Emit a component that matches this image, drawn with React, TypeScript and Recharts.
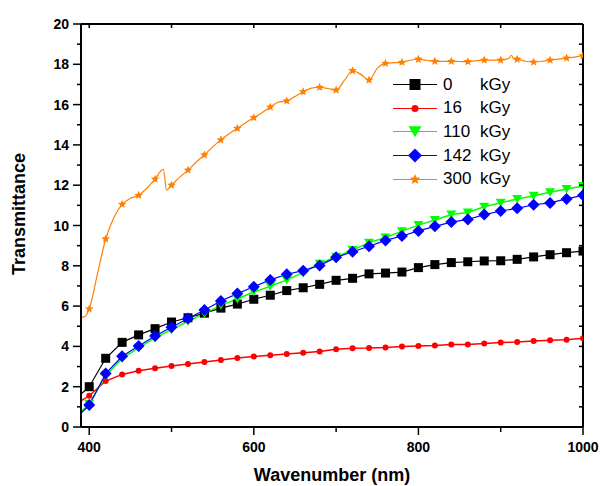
import { LineChart, Line, XAxis, YAxis } from 'recharts';

// Wavelengths shared by the 0, 16, 110 and 142 kGy curves
const WAVELENGTHS = [
  390, 400, 420, 440, 460, 480, 500, 520, 540, 560, 580, 600, 620, 640, 660, 680,
  700, 720, 740, 760, 780, 800, 820, 840, 860, 880, 900, 920, 940, 960, 980, 1000,
];

const T_0KGY = [
  1.64, 2.0, 3.41, 4.2, 4.57, 4.88, 5.21, 5.42, 5.65, 5.9, 6.1, 6.34, 6.54, 6.77, 6.91, 7.08,
  7.28, 7.38, 7.6, 7.64, 7.69, 7.91, 8.06, 8.16, 8.2, 8.24, 8.25, 8.32, 8.44, 8.55, 8.65, 8.73,
];
const T_16KGY = [
  1.3, 1.55, 2.28, 2.61, 2.79, 2.91, 3.03, 3.13, 3.23, 3.33, 3.42, 3.5, 3.56, 3.62, 3.69, 3.75,
  3.86, 3.91, 3.92, 3.95, 4.0, 4.02, 4.04, 4.09, 4.1, 4.15, 4.19, 4.22, 4.27, 4.3, 4.33, 4.4,
];
const T_110KGY = [
  0.75, 1.15, 2.55, 3.4, 3.93, 4.42, 4.83, 5.25, 5.63, 6.05, 6.35, 6.71, 6.98, 7.3, 7.66, 8.1,
  8.45, 8.78, 9.15, 9.4, 9.72, 10.02, 10.27, 10.55, 10.65, 10.93, 11.13, 11.31, 11.48, 11.65, 11.81, 11.96,
];
const T_142KGY = [
  0.68, 1.09, 2.65, 3.51, 4.02, 4.52, 4.95, 5.38, 5.81, 6.25, 6.62, 6.96, 7.3, 7.58, 7.76, 8.02,
  8.42, 8.7, 8.97, 9.26, 9.48, 9.73, 9.96, 10.17, 10.3, 10.54, 10.72, 10.85, 11.03, 11.12, 11.32, 11.5,
];

// 300 kGy is a denser trace (stars only every 20 nm)
const WL_300 = [
  390, 393, 400, 410, 420, 430, 440, 450, 460, 470, 480, 490, 494, 500, 510, 520, 530, 540,
  550, 560, 570, 580, 590, 600, 610, 620, 630, 640, 650, 660, 670, 680, 690, 700, 710, 720,
  730, 740, 750, 760, 770, 780, 790, 800, 810, 820, 830, 840, 850, 860, 870, 880, 890, 900,
  910, 913, 916, 920, 930, 940, 950, 960, 970, 980, 990, 1000,
];
const T_300KGY = [
  5.5, 5.45, 5.86, 7.6, 9.33, 10.4, 11.05, 11.35, 11.5, 11.85, 12.3, 12.8, 11.76, 12.0, 12.4, 12.75, 13.15, 13.5,
  13.9, 14.25, 14.55, 14.82, 15.1, 15.35, 15.6, 15.88, 16.12, 16.18, 16.4, 16.64, 16.82, 16.86, 16.8, 16.72, 17.2, 17.68,
  17.5, 17.22, 17.8, 18.05, 18.08, 18.1, 18.2, 18.25, 18.2, 18.15, 18.15, 18.15, 18.14, 18.13, 18.18, 18.21, 18.21, 18.21,
  18.3, 18.45, 18.25, 18.25, 18.15, 18.11, 18.15, 18.21, 18.26, 18.31, 18.36, 18.43,
];

const X_TICKS = [400, 500, 600, 700, 800, 900, 1000];
const X_LABELS = [400, 600, 800, 1000];
const Y_TICKS = [0, 1, 2, 3, 4, 5, 6, 7, 8, 9, 10, 11, 12, 13, 14, 15, 16, 17, 18, 19, 20];

const LEGEND_DOSES = ['0', '16', '110', '142', '300'];

const FONT = 'Arial, "Liberation Sans", sans-serif';

const toPoints = (xs: number[], ys: number[]) => xs.map((x, i) => ({ x, y: ys[i] }));

type MarkerKind = 'square' | 'circle' | 'triangle' | 'diamond' | 'star';

function starPath(cx: number, cy: number, r: number) {
  const pts: string[] = [];
  for (let i = 0; i < 10; i++) {
    const rad = i % 2 === 0 ? r : r * 0.45;
    const a = -Math.PI / 2 + (i * Math.PI) / 5;
    pts.push(`${cx + rad * Math.cos(a)},${cy + rad * Math.sin(a)}`);
  }
  return `M${pts.join('L')}Z`;
}

function Marker({ kind, cx, cy, color, size }: { kind: MarkerKind; cx: number; cy: number; color: string; size: number }) {
  const h = size / 2;
  switch (kind) {
    case 'square':
      return <rect x={cx - h} y={cy - h} width={size} height={size} fill={color} />;
    case 'circle':
      return <circle cx={cx} cy={cy} r={h} fill={color} />;
    case 'triangle':
      return <path d={`M${cx - h},${cy - h * 0.8}L${cx + h},${cy - h * 0.8}L${cx},${cy + h * 0.9}Z`} fill={color} />;
    case 'diamond':
      return <path d={`M${cx},${cy - h}L${cx + h},${cy}L${cx},${cy + h}L${cx - h},${cy}Z`} fill={color} />;
    default:
      return <path d={starPath(cx, cy, h)} fill={color} />;
  }
}

// only draw a symbol on every 20 nm point, from 400 up
const makeDot = (kind: MarkerKind, color: string, size: number) => (props: any) => {
  const { cx, cy, payload, index } = props;
  if (payload.x < 400 || payload.x % 20 !== 0) return <g key={`d-${index}`} />;
  return (
    <g key={`d-${index}`}>
      <Marker kind={kind} cx={cx} cy={cy} color={color} size={size} />
    </g>
  );
};

const SERIES = [
  { name: '300', color: '#ff8000', kind: 'star' as MarkerKind, size: 9, legendSize: 11, data: toPoints(WL_300, T_300KGY), width: 1.2 },
  { name: '0', color: '#000000', kind: 'square' as MarkerKind, size: 9, legendSize: 11, data: toPoints(WAVELENGTHS, T_0KGY), width: 1.2 },
  { name: '16', color: '#ff0000', kind: 'circle' as MarkerKind, size: 6, legendSize: 7, data: toPoints(WAVELENGTHS, T_16KGY), width: 1.5 },
  { name: '110', color: '#00ff00', kind: 'triangle' as MarkerKind, size: 10, legendSize: 13, data: toPoints(WAVELENGTHS, T_110KGY), width: 1.5 },
  { name: '142', color: '#0000ff', kind: 'diamond' as MarkerKind, size: 12, legendSize: 14, data: toPoints(WAVELENGTHS, T_142KGY), width: 1.2 },
];

const tickText = { fontFamily: FONT, fontWeight: 700, fontSize: 14, fill: '#000' };

function LeftTick({ x, y, payload }: any) {
  const major = payload.value % 2 === 0;
  return (
    <g>
      <line x1={x} x2={x - (major ? 8 : 4)} y1={y} y2={y} stroke="#000" strokeWidth={1.5} />
      {major && (
        <text x={x - 12} y={y} dy={5} textAnchor="end" {...tickText}>
          {payload.value}
        </text>
      )}
    </g>
  );
}

function BottomTick({ x, y, payload }: any) {
  const major = X_LABELS.includes(payload.value);
  return (
    <g>
      <line x1={x} x2={x} y1={y} y2={y + (major ? 8 : 5)} stroke="#000" strokeWidth={1.5} />
      {major && (
        <text x={x} y={y + 25} textAnchor="middle" {...tickText}>
          {payload.value}
        </text>
      )}
    </g>
  );
}

function TopTick({ x, y }: any) {
  return <line x1={x} x2={x} y1={y} y2={y + 4} stroke="#000" strokeWidth={1.5} />;
}

function RightTick({ x, y }: any) {
  return <line x1={x} x2={x - 4} y1={y} y2={y} stroke="#000" strokeWidth={1.5} />;
}

const axisLine = { stroke: '#000', strokeWidth: 2 };

export default function App() {
  return (
    <div style={{ position: 'absolute', left: 0, top: 0, width: 600, height: 486, background: '#fff' }}>
      <LineChart width={600} height={486} margin={{ top: 23, right: 16, bottom: 29, left: 21 }}>
        <XAxis
          xAxisId="b"
          type="number"
          dataKey="x"
          domain={[390, 1000]}
          ticks={X_TICKS}
          interval={0}
          height={30}
          tickSize={0}
          tickMargin={0}
          tickLine={false}
          axisLine={axisLine}
          tick={<BottomTick />}
          allowDataOverflow
        />
        {/* thin top/right axes form the closed frame; they need a nonzero size to render */}
        <XAxis
          xAxisId="t"
          orientation="top"
          type="number"
          dataKey="x"
          domain={[390, 1000]}
          ticks={X_TICKS}
          interval={0}
          height={1}
          tickSize={0}
          tickMargin={0}
          tickLine={false}
          axisLine={axisLine}
          tick={<TopTick />}
          allowDataOverflow
        />
        <YAxis
          yAxisId="l"
          type="number"
          domain={[0, 20]}
          ticks={Y_TICKS}
          interval={0}
          width={60}
          tickSize={0}
          tickMargin={0}
          tickLine={false}
          axisLine={axisLine}
          tick={<LeftTick />}
          allowDataOverflow
        />
        <YAxis
          yAxisId="r"
          orientation="right"
          type="number"
          domain={[0, 20]}
          ticks={Y_TICKS}
          interval={0}
          width={1}
          tickSize={0}
          tickMargin={0}
          tickLine={false}
          axisLine={axisLine}
          tick={<RightTick />}
          allowDataOverflow
        />
        <Line
          xAxisId="t"
          yAxisId="r"
          data={SERIES[1].data}
          dataKey="y"
          stroke="none"
          dot={false}
          activeDot={false}
          legendType="none"
          isAnimationActive={false}
        />
        {SERIES.map((s) => (
          <Line
            key={s.name}
            xAxisId="b"
            yAxisId="l"
            data={s.data}
            dataKey="y"
            type={s.name === '300' ? 'monotone' : 'linear'}
            stroke={s.color}
            strokeWidth={s.width}
            dot={makeDot(s.kind, s.color, s.size)}
            activeDot={false}
            isAnimationActive={false}
          />
        ))}
      </LineChart>

      {/* axis titles */}
      <div
        style={{
          position: 'absolute', left: 0, top: 0, width: 600, height: 486, pointerEvents: 'none',
        }}
      >
        <svg width={600} height={486}>
          <text x={332} y={481} textAnchor="middle" fontFamily={FONT} fontWeight={700} fontSize={18}>
            Wavenumber (nm)
          </text>
          <text
            x={25}
            y={214}
            transform="rotate(-90 25 214)"
            textAnchor="middle"
            fontFamily={FONT}
            fontWeight={700}
            fontSize={18}
          >
            Transmittance
          </text>
        </svg>
      </div>

      {/* legend */}
      <div style={{ position: 'absolute', left: 393, top: 73, fontFamily: FONT, fontSize: 17 }}>
        {LEGEND_DOSES.map((dose) => {
          const s = SERIES.find((d) => d.name === dose)!;
          return (
            <div key={dose} style={{ display: 'flex', alignItems: 'center', height: 23.6 }}>
              <svg width={45} height={23} style={{ display: 'block' }}>
                <line x1={0} x2={44} y1={11.5} y2={11.5} stroke={s.color} strokeWidth={1.2} />
                <Marker kind={s.kind} cx={22} cy={11.5} color={s.color} size={s.legendSize} />
              </svg>
              <span style={{ display: 'inline-block', width: 37, marginLeft: 5 }}>{dose}</span>
              <span>kGy</span>
            </div>
          );
        })}
      </div>
    </div>
  );
}
